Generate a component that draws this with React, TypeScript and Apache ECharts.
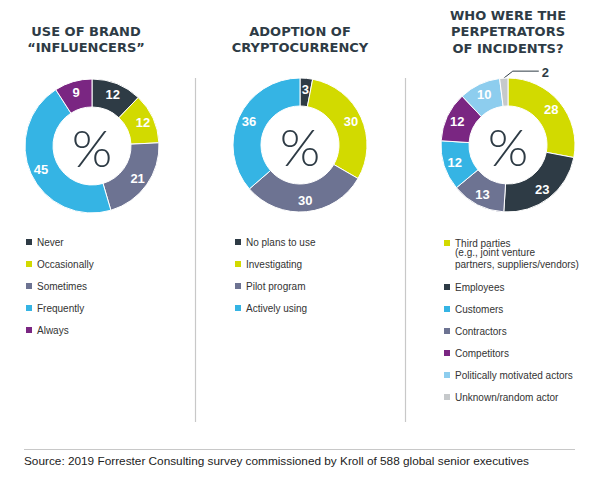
import React, { useEffect, useRef } from "react";
import * as echarts from "echarts";

const influencerCategories = ["Never", "Occasionally", "Sometimes", "Frequently", "Always"];
const influencerValues = [12, 12, 21, 45, 9];

const cryptoCategories = ["No plans to use", "Investigating", "Pilot program", "Actively using"];
const cryptoValues = [3, 30, 30, 36];

const perpCategories = [
  "Third parties",
  "Employees",
  "Contractors",
  "Customers",
  "Competitors",
  "Politically motivated actors",
  "Unknown/random actor",
];
const perpValues = [28, 23, 13, 12, 12, 10, 2];
const perpLegendTop = ["Third parties"];
const perpLegendRest = [
  "Employees",
  "Customers",
  "Contractors",
  "Competitors",
  "Politically motivated actors",
  "Unknown/random actor",
];
const perpNote = "(e.g., joint venture\npartners, suppliers/vendors)";

const titles = ["USE OF BRAND\n“INFLUENCERS”", "ADOPTION OF\nCRYPTOCURRENCY", "WHO WERE THE\nPERPETRATORS\nOF INCIDENTS?"];
const sourceText = "Source: 2019 Forrester Consulting survey commissioned by Kroll of 588 global senior executives";

const DARK = "#2e3b45";
const LIME = "#d2da00";
const SLATE = "#6d7392";
const CYAN = "#35b4e4";
const PURPLE = "#7a2682";
const LIGHTBLUE = "#8dcdee";
const GREY = "#c6c9cb";

const influencerColors = [DARK, LIME, SLATE, CYAN, PURPLE];
const cryptoColors = [DARK, LIME, SLATE, CYAN];
const perpColors = [LIME, DARK, SLATE, CYAN, PURPLE, LIGHTBLUE, GREY];

const FONT = "'Liberation Sans', Arial, sans-serif";

export default function App() {
  const ref = useRef<HTMLDivElement>(null);

  useEffect(() => {
    if (!ref.current) return;
    const chart = echarts.init(ref.current, undefined, { renderer: "svg" });

    const insideLabel = {
      show: true,
      position: "inside",
      color: "#fff",
      fontWeight: "bold",
      fontSize: 13,
      fontFamily: FONT,
      formatter: "{c}",
    };

    const makeData = (names: string[], values: number[], colors: string[]) =>
      names.map((n, i) => ({ name: n, value: values[i], itemStyle: { color: colors[i] } }));

    const perpData: any[] = makeData(perpCategories, perpValues, perpColors);
    perpData[6] = {
      ...perpData[6],
      label: {
        show: true,
        position: "outside",
        color: DARK,
        fontWeight: "bold",
        fontSize: 13,
        fontFamily: FONT,
      },
      labelLine: { show: true, length: 6, length2: 20, lineStyle: { color: DARK, width: 1 } },
    };

    const baseSeries = {
      type: "pie",
      radius: [39, 67],
      avoidLabelOverlap: false,
      itemStyle: { borderColor: "#fff", borderWidth: 1 },
      label: insideLabel,
      labelLine: { show: false },
      emphasis: { disabled: true },
      silent: true,
    };

    const legendBase = {
      orient: "vertical",
      icon: "rect",
      itemWidth: 8,
      itemHeight: 8,
      itemGap: 10,
      padding: 0,
      selectedMode: false,
      textStyle: { fontSize: 10, color: "#333", fontFamily: FONT, lineHeight: 12, padding: [0, 0, 0, -1] },
    };

    const titleBase = {
      textAlign: "center",
      padding: 0,
      textStyle: {
        fontFamily: "'DejaVu Sans', sans-serif",
        fontWeight: "bold",
        fontSize: 13,
        color: DARK,
        lineHeight: 16.5,
      },
    };

    const centers = [
      [92, 146],
      [300, 145],
      [508, 145],
    ];

    const option: any = {
      animation: false,
      backgroundColor: "#fff",
      title: [
        { ...titleBase, text: titles[0], left: 86, top: 23 },
        { ...titleBase, text: titles[1], left: 300, top: 23 },
        { ...titleBase, text: titles[2], left: 508, top: 7 },
      ],
      legend: [
        { ...legendBase, data: influencerCategories, left: 24, top: 236 },
        { ...legendBase, data: cryptoCategories, left: 233, top: 236 },
        { ...legendBase, data: perpLegendTop, left: 442, top: 237 },
        { ...legendBase, data: perpLegendRest, left: 442, top: 281 },
      ],
      series: [
        {
          ...baseSeries,
          center: centers[0],
          data: makeData(influencerCategories, influencerValues, influencerColors),
        },
        {
          ...baseSeries,
          center: centers[1],
          data: makeData(cryptoCategories, cryptoValues, cryptoColors),
        },
        {
          ...baseSeries,
          center: centers[2],
          data: perpData,
          labelLayout: (params: any) => {
            if (params.dataIndex !== 6 || !params.labelLinePoints) return {};
            const s = params.labelLinePoints[0];
            const elbow = [s[0] + 9, s[1] - 7];
            const end = [s[0] + 35, s[1] - 7];
            return {
              x: end[0] + 3,
              y: end[1] + 1,
              align: "left",
              verticalAlign: "middle",
              labelLinePoints: [s, elbow, end],
            };
          },
        },
      ],
      graphic: [
        ...centers.map((c) => ({
          type: "text",
          x: c[0],
          y: c[1] + 1,
          silent: true,
          style: {
            text: "%",
            fill: DARK,
            fontSize: 52,
            fontWeight: 300,
            fontFamily: "Lato, 'Noto Sans', sans-serif",
            textAlign: "center",
            textVerticalAlign: "middle",
          },
        })),
        {
          type: "text",
          x: 455,
          y: 247,
          silent: true,
          style: {
            text: perpNote,
            fill: "#333",
            fontSize: 10,
            fontFamily: FONT,
            lineHeight: 11.5,
            textAlign: "left",
          },
        },
        {
          type: "line",
          silent: true,
          shape: { x1: 195.5, y1: 78, x2: 195.5, y2: 422 },
          style: { stroke: "#c8c8c8", lineWidth: 1.2 },
        },
        {
          type: "line",
          silent: true,
          shape: { x1: 405.5, y1: 78, x2: 405.5, y2: 422 },
          style: { stroke: "#c8c8c8", lineWidth: 1.2 },
        },
        {
          type: "line",
          silent: true,
          shape: { x1: 24, y1: 449.5, x2: 575, y2: 449.5 },
          style: { stroke: "#c8c8c8", lineWidth: 1 },
        },
        {
          type: "text",
          x: 24,
          y: 461,
          silent: true,
          style: {
            text: sourceText,
            fill: "#222",
            fontSize: 11.8,
            fontFamily: FONT,
            textAlign: "left",
            textVerticalAlign: "middle",
          },
        },
      ],
    };

    chart.setOption(option);
    return () => chart.dispose();
  }, []);

  return (
    <div
      ref={ref}
      style={{ position: "fixed", left: 0, top: 0, width: 600, height: 482, background: "#fff" }}
    />
  );
}
